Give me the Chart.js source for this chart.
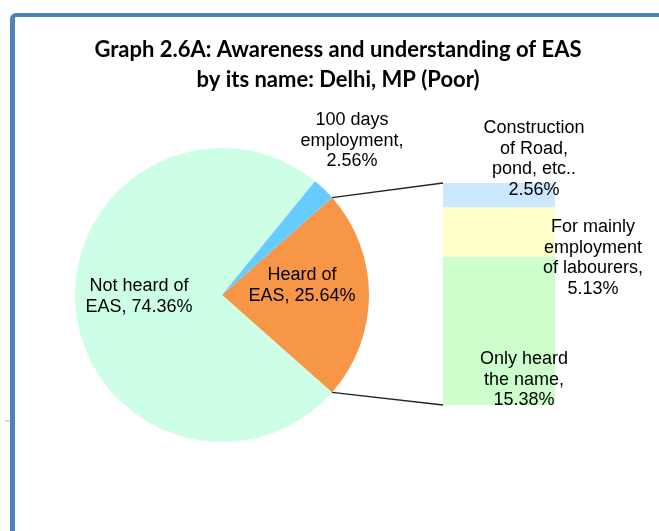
<!DOCTYPE html>
<html>
<head>
<meta charset="utf-8">
<title>Graph 2.6A</title>
<script src="https://cdn.jsdelivr.net/npm/chart.js@4.4.1/dist/chart.umd.min.js"></script>
<style>
    html, body { margin: 0; padding: 0; background: #fff; overflow: hidden; }
    #wrap { position: relative; width: 659px; height: 531px; }
    #frame {
        position: absolute; left: 10px; top: 13px; width: 720px; height: 600px;
        border-style: solid; border-color: #4F81BD; border-width: 4px 0 0 5px;
        border-top-left-radius: 6px; box-sizing: border-box;
    }
    #tick { position: absolute; left: 5px; top: 420px; width: 5px; height: 2px; background: #d9d9d9; }
    canvas { position: absolute; left: 0; top: 0; }
</style>
</head>
<body>
<div id="wrap">
    <div id="tick"></div>
    <div id="frame"></div>
    <canvas id="pieChart" width="659" height="531"></canvas>
    <canvas id="barChart" width="659" height="531"></canvas>
</div>
<script>
// Chart data
const titleLines = ['Graph 2.6A: Awareness and understanding of EAS', 'by its name: Delhi, MP (Poor)'];

// pie: the "Heard of EAS" slice is the part broken out into the bar
const pieCategories = ['Heard of EAS', 'Not heard of EAS', '100 days employment'];
const pieValues = [23.07, 74.36, 2.56];
const pieLabelLines = [['Heard of', 'EAS, 25.64%'], ['Not heard of', 'EAS, 74.36%'], ['100 days', 'employment,', '2.56%']];
const pieColors = ['#F79646', '#CCFFE5', '#66CCFF'];

// bar (bottom to top)
const barCategories = ['Only heard the name', 'For mainly employment of labourers', 'Construction of Road, pond, etc..'];
const barValues = [15.38, 5.13, 2.56];
const barLabelLines = [['Only heard', 'the name,', '15.38%'], ['For mainly', 'employment', 'of labourers,', '5.13%'], ['Construction', 'of Road,', 'pond, etc..', '2.56%']];
const barColors = ['#CCFFCC', '#FFFFCC', '#CCE8FF'];

// label anchors (centre of first line)
const pieLabelPos = [[302, 275], [139, 286], [352, 120]];
const barLabelPos = [[524, 359], [593, 227], [534, 128]];
const LINE_H = 20.7;
const LABEL_FONT = '18px "Liberation Sans", Arial, sans-serif';

function drawLines(ctx, lines, x, y) {
    lines.forEach((t, i) => ctx.fillText(t, x, y + i * LINE_H));
}

// title + pie labels
const piePlugin = {
    id: 'pieText',
    afterDraw(chart) {
        const ctx = chart.ctx;
        ctx.save();
        ctx.fillStyle = '#000';
        ctx.textAlign = 'center';
        ctx.textBaseline = 'alphabetic';
        ctx.font = 'bold 22px Lato, "Open Sans", sans-serif';
        ctx.fillText(titleLines[0], 338, 57);
        ctx.fillText(titleLines[1], 338, 87);
        ctx.font = LABEL_FONT;
        ctx.textBaseline = 'middle';
        pieLabelLines.forEach((lines, i) => drawLines(ctx, lines, pieLabelPos[i][0], pieLabelPos[i][1]));
        ctx.restore();
    }
};

// connector lines + bar labels
const barPlugin = {
    id: 'barText',
    afterDraw(chart) {
        const ctx = chart.ctx;
        const arc = window.pieChart.getDatasetMeta(0).data[0];
        const bottom = chart.getDatasetMeta(0).data[0];
        const top = chart.getDatasetMeta(barValues.length - 1).data[0];
        const left = top.x - top.width / 2;
        ctx.save();
        ctx.strokeStyle = '#222';
        ctx.lineWidth = 1.3;
        ctx.beginPath();
        ctx.moveTo(arc.x + arc.outerRadius * Math.cos(arc.startAngle), arc.y + arc.outerRadius * Math.sin(arc.startAngle));
        ctx.lineTo(left, top.y);
        ctx.moveTo(arc.x + arc.outerRadius * Math.cos(arc.endAngle), arc.y + arc.outerRadius * Math.sin(arc.endAngle));
        ctx.lineTo(left, bottom.base);
        ctx.stroke();
        ctx.fillStyle = '#000';
        ctx.font = LABEL_FONT;
        ctx.textAlign = 'center';
        ctx.textBaseline = 'middle';
        barLabelLines.forEach((lines, i) => drawLines(ctx, lines, barLabelPos[i][0], barLabelPos[i][1]));
        ctx.restore();
    }
};

function initializePieChart() {
    const ctx = document.getElementById('pieChart').getContext('2d');
    const total = pieValues.reduce((a, b) => a + b, 0);
    window.pieChart = new Chart(ctx, {
        type: 'pie',
        data: {
            labels: pieCategories,
            datasets: [{
                data: pieValues,
                backgroundColor: pieColors,
                borderWidth: 0
            }]
        },
        options: {
            responsive: false,
            animation: false,
            // centre the broken-out slice on the right
            rotation: 90 - pieValues[0] / total * 180,
            layout: { padding: { left: 75, right: 290, top: 148, bottom: 89 } },
            plugins: {
                legend: { display: false },
                tooltip: { enabled: false }
            }
        },
        plugins: [piePlugin]
    });
}

function initializeBarChart() {
    const ctx = document.getElementById('barChart').getContext('2d');
    window.barChart = new Chart(ctx, {
        type: 'bar',
        data: {
            labels: [''],
            datasets: barCategories.map((name, i) => ({
                label: name,
                data: [barValues[i]],
                backgroundColor: barColors[i],
                borderWidth: 0,
                barPercentage: 1,
                categoryPercentage: 1
            }))
        },
        options: {
            responsive: false,
            animation: false,
            layout: { padding: { left: 443, right: 104, top: 183, bottom: 126 } },
            scales: {
                x: { stacked: true, display: false },
                y: { stacked: true, display: false, min: 0, max: barValues.reduce((a, b) => a + b, 0) }
            },
            plugins: {
                legend: { display: false },
                tooltip: { enabled: false }
            }
        },
        plugins: [barPlugin]
    });
}

initializePieChart();
initializeBarChart();
</script>
</body>
</html>
